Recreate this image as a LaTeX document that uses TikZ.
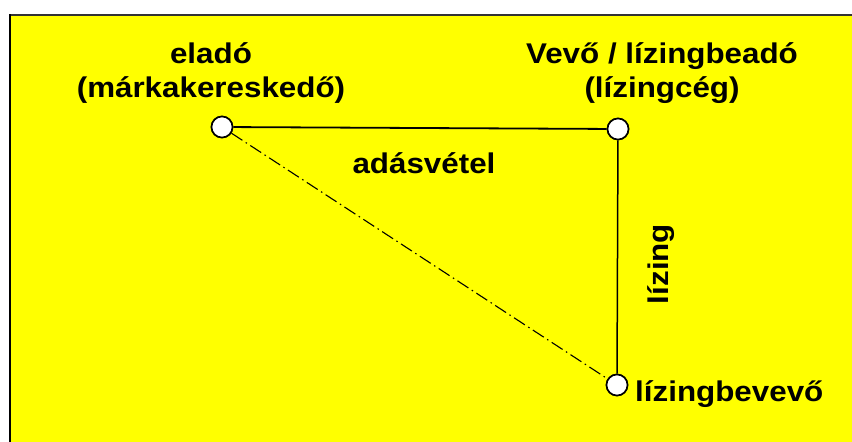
\documentclass[tikz,border=0pt]{standalone}
\usepackage{fontspec}
\newfontfamily\labfont{Liberation Sans}[FakeStretch=1.1]
\definecolor{bgyellow}{HTML}{FFFF00}
\tikzset{
  lbl/.style={font=\labfont\bfseries\fontsize{28.5}{34}\selectfont, inner sep=0pt, align=center},
  party/.style={circle, draw=black, fill=white, line width=1.6pt, minimum size=21pt, inner sep=0pt},
  solidlink/.style={draw=black, line width=1.8pt},
  thinlink/.style={draw=black, line width=1.5pt},
  dashlink/.style={draw=black, line width=1.1pt, dash pattern=on 13pt off 4pt on 1.5pt off 4pt}
}
\begin{document}
\begin{tikzpicture}[x=1pt,y=-1pt]
\useasboundingbox (0,0) rectangle (852,442);
\fill[white] (0,0) rectangle (852,442);
\fill[bgyellow] (10,15) rectangle (852,442);
\draw[black!80, line width=1.5pt] (10,15) -- (852,15);
\draw[black, line width=2.6pt] (10,14) -- (10,442);

\node[party] (a) at (222,127) {};
\node[party] (b) at (618,129) {};
\node[party] (c) at (617,385) {};

\path[solidlink] (a) -- (b);
\path[thinlink] (b) -- (c);
\path[dashlink] (a) -- (c);

\node[party] at (a) {};
\node[party] at (b) {};
\node[party] at (c) {};

\node[lbl, anchor=base] (seller) at (211,97) {eladó\\(márkakereskedő)};
\node[lbl, anchor=base] (buyer) at (662,97) {Vevő / lízingbeadó\\(lízingcég)};
\node[lbl, anchor=base] (sale) at (424,173) {adásvétel};
\node[lbl, anchor=base, rotate=90] (lease) at (668,264) {lízing};
\node[lbl, anchor=base west] (lessee) at (635,401) {lízingbevevő};
\end{tikzpicture}
\end{document}
